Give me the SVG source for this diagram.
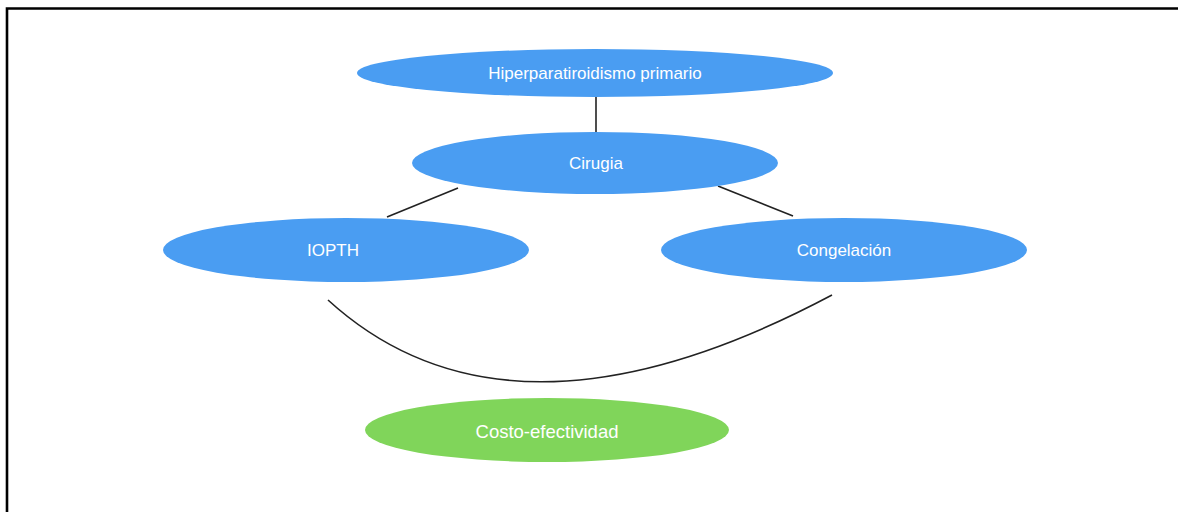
<svg xmlns="http://www.w3.org/2000/svg" width="1178" height="512" viewBox="0 0 1178 512">
<style>
.blue{fill:#4a9df2}
.green{fill:#80d55a}
.lbl{fill:#ffffff;font-family:"Liberation Sans",Arial,sans-serif;font-size:17px;text-anchor:middle;dominant-baseline:central}
.conn{stroke:#222;stroke-width:1.6;fill:none}
</style>
<rect width="1178" height="512" fill="#ffffff"/>
<path d="M7,512 V8.5 H1178" fill="none" stroke="#000" stroke-width="2.6"/>
<g id="connectors">
<line class="conn" x1="596" y1="96" x2="596" y2="132"/>
<line class="conn" x1="458" y1="188" x2="387" y2="217"/>
<line class="conn" x1="718" y1="186" x2="793" y2="216"/>
<path class="conn" d="M328,300 Q510,466 832,295"/>
</g>
<g id="node-hiper">
<ellipse class="blue" cx="595" cy="73" rx="238" ry="24"/>
<text class="lbl" x="595" y="73">Hiperparatiroidismo primario</text>
</g>
<g id="node-cirugia">
<ellipse class="blue" cx="595" cy="163" rx="183" ry="31"/>
<text class="lbl" x="596" y="163">Cirugia</text>
</g>
<g id="node-iopth">
<ellipse class="blue" cx="346" cy="250" rx="183" ry="32"/>
<text class="lbl" x="333" y="250">IOPTH</text>
</g>
<g id="node-congelacion">
<ellipse class="blue" cx="844" cy="250" rx="183" ry="32"/>
<text class="lbl" x="844" y="250">Congelación</text>
</g>
<g id="node-costo">
<ellipse class="green" cx="547" cy="430" rx="182" ry="32"/>
<text class="lbl" x="547" y="431" style="font-size:18.5px">Costo-efectividad</text>
</g>
</svg>
